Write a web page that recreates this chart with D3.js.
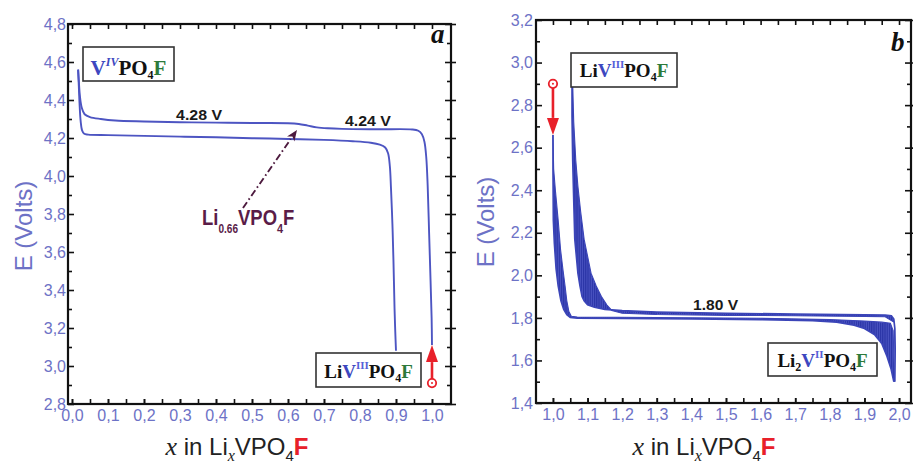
<!DOCTYPE html>
<html><head><meta charset="utf-8">
<script src="https://cdn.jsdelivr.net/npm/d3@7"></script>
<style>
html,body{margin:0;padding:0;background:#fff;}
svg{display:block;}
</style></head>
<body>
<svg id="chart" width="913" height="468"></svg>
<script>
// ---------------- DATA ----------------
// Panel a : x in LixVPO4F vs E (V)
const leftCharge = [
  [1.000,3.11],[0.999,3.25],[0.996,3.45],[0.992,3.70],[0.988,3.95],[0.984,4.10],[0.979,4.18],
  [0.972,4.22],[0.962,4.238],[0.945,4.245],[0.85,4.246],[0.75,4.248],[0.71,4.251],[0.68,4.256],
  [0.655,4.265],[0.63,4.274],[0.60,4.278],[0.50,4.279],[0.40,4.281],[0.30,4.283],[0.20,4.287],
  [0.12,4.292],[0.08,4.300],[0.05,4.31],[0.035,4.325],[0.027,4.36],[0.022,4.42],[0.019,4.50],[0.017,4.56]
];
const leftDischarge = [
  [0.017,4.56],[0.019,4.47],[0.021,4.38],[0.024,4.29],[0.028,4.24],[0.034,4.222],[0.045,4.218],
  [0.10,4.215],[0.20,4.211],[0.30,4.207],[0.40,4.204],[0.50,4.199],[0.60,4.195],[0.70,4.19],
  [0.78,4.183],[0.83,4.175],[0.855,4.165],[0.870,4.15],[0.878,4.12],[0.883,4.05],[0.886,3.94],
  [0.890,3.75],[0.893,3.55],[0.896,3.30],[0.898,3.18],[0.900,3.08]
];
// Panel b : GITT-like curves, drawn as working (under current) and relaxed envelopes
const rightDischargeWorking = [
  [1.000,2.66],[1.000,2.50],[1.001,2.26],[1.004,2.15],[1.009,2.03],[1.015,1.95],[1.023,1.88],
  [1.031,1.84],[1.040,1.815],[1.050,1.802],[1.07,1.799],[1.2,1.797],[1.4,1.795],[1.6,1.792],
  [1.75,1.787],[1.82,1.78],[1.87,1.765],[1.90,1.75],[1.93,1.72],[1.95,1.68],[1.965,1.62],
  [1.977,1.56],[1.985,1.50]
];
const rightDischargeRelaxed = [
  [1.000,2.66],[1.002,2.50],[1.007,2.40],[1.015,2.26],[1.022,2.12],[1.029,2.025],[1.035,1.95],
  [1.040,1.88],[1.046,1.83],[1.053,1.808],[1.07,1.804],[1.3,1.802],[1.6,1.798],[1.8,1.792],
  [1.9,1.785],[1.95,1.78],[1.975,1.775],[1.983,1.74],[1.987,1.50]
];
const rightChargeWorking = [
  [1.988,1.50],[1.989,1.65],[1.988,1.75],[1.985,1.795],[1.978,1.81],[1.96,1.813],[1.9,1.815],
  [1.7,1.818],[1.5,1.822],[1.3,1.828],[1.2,1.834],[1.15,1.84],[1.12,1.85],[1.10,1.862],
  [1.09,1.88],[1.084,1.90],[1.078,1.95],[1.072,2.01],[1.067,2.10],[1.063,2.17],[1.06,2.35],
  [1.057,2.54],[1.055,2.75],[1.055,2.90]
];
const rightChargeRelaxed = [
  [1.985,1.78],[1.96,1.805],[1.9,1.807],[1.7,1.81],[1.5,1.812],[1.3,1.816],[1.2,1.822],
  [1.17,1.835],[1.156,1.86],[1.14,1.90],[1.125,1.95],[1.11,2.01],[1.10,2.09],[1.09,2.17],
  [1.08,2.30],[1.072,2.42],[1.066,2.54],[1.06,2.72],[1.057,2.90]
];
// red start markers [x, E circle, E arrow tip]
const leftStart = [1.0, 2.91, 3.11];
const rightStart = [1.0, 2.90, 2.66];
// dash-dot pointer to Li0.66VPO4F
const liArrow = [[0.475,3.832],[0.625,4.242]];

// tick values
const leftXTicks = [0.0,0.1,0.2,0.3,0.4,0.5,0.6,0.7,0.8,0.9,1.0];
const leftYTicks = [2.8,3.0,3.2,3.4,3.6,3.8,4.0,4.2,4.4,4.6,4.8];
const rightXTicks = [1.0,1.1,1.2,1.3,1.4,1.5,1.6,1.7,1.8,1.9,2.0];
const rightYTicks = [1.4,1.6,1.8,2.0,2.2,2.4,2.6,2.8,3.0,3.2];

// plateau annotations [x, E, text]
const leftPlateaus = [[0.353,4.295,"4.28 V"],[0.822,4.263,"4.24 V"]];
const rightPlateaus = [[1.47,1.837,"1.80 V"]];

// ---------------- DRAWING ----------------
const svg = d3.select("#chart");
const SANS = "'Liberation Sans', Arial, sans-serif";
const SERIF = "'Liberation Serif', 'Times New Roman', serif";
const TICKCOL = "#6d72c6";
const CURVE = "#4d55c2";
const RED = "#e8202a";
const GREEN = "#2d7a3a";
const VBLUE = "#3d47c0";
const fmt = d => d.toFixed(1).replace(".", ",");

const defs = svg.append("defs");
const pat = defs.append("pattern").attr("id","gitt").attr("patternUnits","userSpaceOnUse")
  .attr("width",2.2).attr("height",6);
pat.append("rect").attr("width",2.2).attr("height",6).attr("fill","#4b54c2");
pat.append("rect").attr("width",1.2).attr("height",6).attr("fill","#2a34a6");

function rich(parent, x, y, segs, base) {
  const t = parent.append("text").attr("x",x).attr("y",y)
    .attr("font-family", base.family).attr("font-size", base.size)
    .attr("font-weight", base.weight||"normal").attr("fill", base.fill||"#000")
    .attr("text-anchor", base.anchor||"start");
  let cur = 0;
  segs.forEach(s => {
    const sh = s.shift||0;
    const ts = t.append("tspan").attr("dy", sh-cur).text(s.t);
    cur = sh;
    if (s.fill) ts.attr("fill", s.fill);
    if (s.size) ts.attr("font-size", s.size);
    if (s.family) ts.attr("font-family", s.family);
    if (s.style) ts.attr("font-style", s.style);
    if (s.weight) ts.attr("font-weight", s.weight);
  });
  return t;
}

function minorRange(a,b,s){ const out=[]; for(let v=a; v<=b+1e-9; v+=s) out.push(+v.toFixed(3)); return out; }

function axes(g, x, y, o) {
  const [xl, xr] = x.range(), [yb, yt] = y.range();
  const style = sel => { sel.select(".domain").remove(); sel.selectAll("line").attr("stroke","#111").attr("stroke-width",1.6);
    sel.selectAll("text").attr("font-family",SANS).attr("font-size",16).attr("fill",TICKCOL); };
  g.append("g").attr("transform",`translate(0,${yb})`)
    .call(d3.axisBottom(x).tickValues(o.xMinor).tickSize(-5).tickFormat("")).call(style);
  g.append("g").attr("transform",`translate(0,${yb})`)
    .call(d3.axisBottom(x).tickValues(o.xMajor).tickSizeInner(-5).tickSizeOuter(0).tickPadding(6).tickFormat(fmt)).call(style);
  g.append("g").attr("transform",`translate(0,${yt})`)
    .call(d3.axisTop(x).tickValues(o.xMinor).tickSize(-5).tickFormat("")).call(style);
  g.append("g").attr("transform",`translate(${xl},0)`)
    .call(d3.axisLeft(y).tickValues(o.yMajor).tickSizeInner(-6).tickSizeOuter(0).tickPadding(o.pad).tickFormat(fmt)).call(style);
  g.append("g").attr("transform",`translate(${xl},0)`)
    .call(d3.axisLeft(y).tickValues(o.yMinor).tickSize(-4).tickFormat("")).call(style);
  g.append("g").attr("transform",`translate(${xr},0)`)
    .call(d3.axisRight(y).tickValues(o.yMinor).tickSize(-4).tickFormat("")).call(style);
  g.append("g").attr("transform",`translate(${xr},0)`)
    .call(d3.axisRight(y).tickValues(o.yMajor).tickSize(5).tickFormat("")).call(style);
  g.append("g").attr("transform",`translate(${xr},0)`)
    .call(d3.axisRight(y).tickValues(o.yMajor).tickSize(-6).tickFormat("")).call(style);
  g.append("rect").attr("x",xl).attr("y",yt).attr("width",xr-xl).attr("height",yb-yt)
    .attr("fill","none").attr("stroke","#111").attr("stroke-width",2.2);
}

function box(g, bx, by, bw, bh) {
  g.append("rect").attr("x",bx).attr("y",by).attr("width",bw).attr("height",bh)
    .attr("fill","#fff").attr("stroke","#333").attr("stroke-width",1.6);
}

function redMarker(g, x, y, d, up) {
  const cx = x(d[0]), cy = y(d[1]), ty = y(d[2]);
  const dir = up ? 1 : -1;
  const baseY = ty + dir*17;
  g.append("line").attr("x1",cx).attr("x2",cx).attr("y1",cy - dir*4).attr("y2",baseY)
    .attr("stroke",RED).attr("stroke-width",2.6);
  g.append("path").attr("d",`M${cx},${ty} L${cx-6},${baseY} L${cx+6},${baseY} Z`).attr("fill",RED);
  g.append("circle").attr("cx",cx).attr("cy",cy).attr("r",4.2).attr("fill","#fff").attr("stroke",RED).attr("stroke-width",1.8);
  g.append("circle").attr("cx",cx).attr("cy",cy).attr("r",1).attr("fill",RED);
}

function xTitle(g, cx) {
  rich(g, cx, 455, [
    {t:"x", family:SERIF, style:"italic", size:26},
    {t:" in Li"},
    {t:"x", family:SERIF, style:"italic", size:16, shift:6},
    {t:"VPO", shift:0},
    {t:"4", size:15, shift:6},
    {t:"F", shift:0, fill:RED, weight:"bold"}
  ], {family:SANS, size:24, fill:"#222", anchor:"middle"});
}
function yTitle(g, bx, cy) {
  g.append("text").attr("transform",`translate(${bx},${cy}) rotate(-90)`).attr("text-anchor","middle")
    .attr("font-family",SANS).attr("font-size",24).attr("fill",TICKCOL).text("E (Volts)");
}

// ---------- Panel a ----------
const xa = d3.scaleLinear().domain([-0.0111, 1.0528]).range([68, 451]);
const ya = d3.scaleLinear().domain([2.8, 4.8]).range([404, 24]);
const ga = svg.append("g");
axes(ga, xa, ya, {xMajor:leftXTicks, xMinor:minorRange(0,1.0,0.05), yMajor:leftYTicks,
  yMinor:minorRange(2.9,4.7,0.2), pad:2});
const lineA2 = d3.line().x(d=>xa(d[0])).y(d=>ya(d[1])).curve(d3.curveCatmullRom.alpha(0.5));
ga.append("path").attr("d",lineA2(leftCharge)).attr("fill","none").attr("stroke",CURVE).attr("stroke-width",1.9);
ga.append("path").attr("d",lineA2(leftDischarge)).attr("fill","none").attr("stroke",CURVE).attr("stroke-width",1.9);
leftPlateaus.forEach(p => ga.append("text").attr("x",xa(p[0])).attr("y",ya(p[1])).attr("text-anchor","middle")
  .attr("font-family",SANS).attr("font-weight","bold").attr("font-size",15).attr("fill","#1a1a1a")
  .attr("textLength",46).attr("lengthAdjust","spacingAndGlyphs").text(p[2]));
{
  const [p0,p1] = liArrow.map(d=>[xa(d[0]), ya(d[1])]);
  const ang = Math.atan2(p1[1]-p0[1], p1[0]-p0[0]);
  const L = 11, W = 4.5;
  const bxp = p1[0]-L*Math.cos(ang), byp = p1[1]-L*Math.sin(ang);
  ga.append("line").attr("x1",p0[0]).attr("y1",p0[1]).attr("x2",bxp).attr("y2",byp)
    .attr("stroke","#4d1a3e").attr("stroke-width",1.9).attr("stroke-dasharray","7,3,1.6,3");
  const px = -Math.sin(ang), py = Math.cos(ang);
  ga.append("path").attr("d",`M${p1[0]},${p1[1]} L${bxp+W*px},${byp+W*py} L${bxp+3*Math.cos(ang)},${byp+3*Math.sin(ang)} L${bxp-W*px},${byp-W*py} Z`)
    .attr("fill","#4d1a3e");
}
{
  const gl = ga.append("g").attr("transform","translate(202,225) scale(0.84,1)");
  rich(gl, 0, 0, [
    {t:"Li"}, {t:"0.66", size:12, shift:8}, {t:"VPO", shift:0}, {t:"4", size:13, shift:8}, {t:"F", shift:0}
  ], {family:SANS, size:22, weight:"bold", fill:"#5a1c48"});
}
redMarker(ga, xa, ya, leftStart, true);
box(ga, 83, 47, 91, 34);
rich(ga, 128.5, 75, [
  {t:"V", fill:VBLUE}, {t:"IV", fill:VBLUE, size:12, style:"italic", shift:-9},
  {t:"PO", shift:0}, {t:"4", size:12, shift:4}, {t:"F", fill:GREEN, shift:0}
], {family:SERIF, size:21, weight:"bold", fill:"#111", anchor:"middle"});
box(ga, 316, 353, 105, 34);
rich(ga, 368.5, 378, [
  {t:"Li"}, {t:"V", fill:VBLUE}, {t:"III", fill:"#5560d8", size:11, shift:-9},
  {t:"PO", shift:0}, {t:"4", size:12, shift:4}, {t:"F", fill:GREEN, shift:0}
], {family:SERIF, size:19, weight:"bold", fill:"#111", anchor:"middle"});
ga.append("text").attr("x",431).attr("y",43).attr("font-family",SERIF).attr("font-size",27)
  .attr("font-weight","bold").attr("font-style","italic").attr("fill","#111").text("a");
xTitle(ga, 237);
yTitle(ga, 32, 226);

// ---------- Panel b ----------
const xb = d3.scaleLinear().domain([0.951, 2.0346]).range([536, 911]);
const yb = d3.scaleLinear().domain([1.4, 3.2]).range([403, 20]);
const gb = svg.append("g");
axes(gb, xb, yb, {xMajor:rightXTicks, xMinor:minorRange(1.0,2.0,0.05), yMajor:rightYTicks,
  yMinor:minorRange(1.5,3.1,0.2), pad:3});
const lineB = d3.line().x(d=>xb(d[0])).y(d=>yb(d[1])).curve(d3.curveLinear);
function band(work, relax) {
  const poly = work.concat(relax.slice().reverse());
  gb.append("path").attr("d",lineB(poly)+"Z").attr("fill","url(#gitt)").attr("stroke","none");
  gb.append("path").attr("d",lineB(work)).attr("fill","none").attr("stroke","#3b45b8").attr("stroke-width",1.6);
  gb.append("path").attr("d",lineB(relax)).attr("fill","none").attr("stroke","#3b45b8").attr("stroke-width",1.1);
}
band(rightDischargeWorking, rightDischargeRelaxed);
band(rightChargeWorking, rightChargeRelaxed);
rightPlateaus.forEach(p => gb.append("text").attr("x",xb(p[0])).attr("y",yb(p[1])).attr("text-anchor","middle")
  .attr("font-family",SANS).attr("font-weight","bold").attr("font-size",15).attr("fill","#1a1a1a")
  .attr("textLength",45).attr("lengthAdjust","spacingAndGlyphs").text(p[2]));
redMarker(gb, xb, yb, rightStart, false);
box(gb, 571, 53, 106, 34);
rich(gb, 624, 77, [
  {t:"Li"}, {t:"V", fill:VBLUE}, {t:"III", fill:"#5560d8", size:11, shift:-9},
  {t:"PO", shift:0}, {t:"4", size:12, shift:4}, {t:"F", fill:GREEN, shift:0}
], {family:SERIF, size:19, weight:"bold", fill:"#111", anchor:"middle"});
box(gb, 768, 343, 109, 33);
rich(gb, 822.5, 367, [
  {t:"Li"}, {t:"2", size:12, shift:4}, {t:"V", fill:VBLUE, shift:0}, {t:"II", fill:"#5560d8", size:11, shift:-9},
  {t:"PO", shift:0}, {t:"4", size:12, shift:4}, {t:"F", fill:GREEN, shift:0}
], {family:SERIF, size:19, weight:"bold", fill:"#111", anchor:"middle"});
gb.append("text").attr("x",891).attr("y",51).attr("font-family",SERIF).attr("font-size",27)
  .attr("font-weight","bold").attr("font-style","italic").attr("fill","#111").text("b");
xTitle(gb, 704);
yTitle(gb, 494, 222);
</script>
</body></html>
